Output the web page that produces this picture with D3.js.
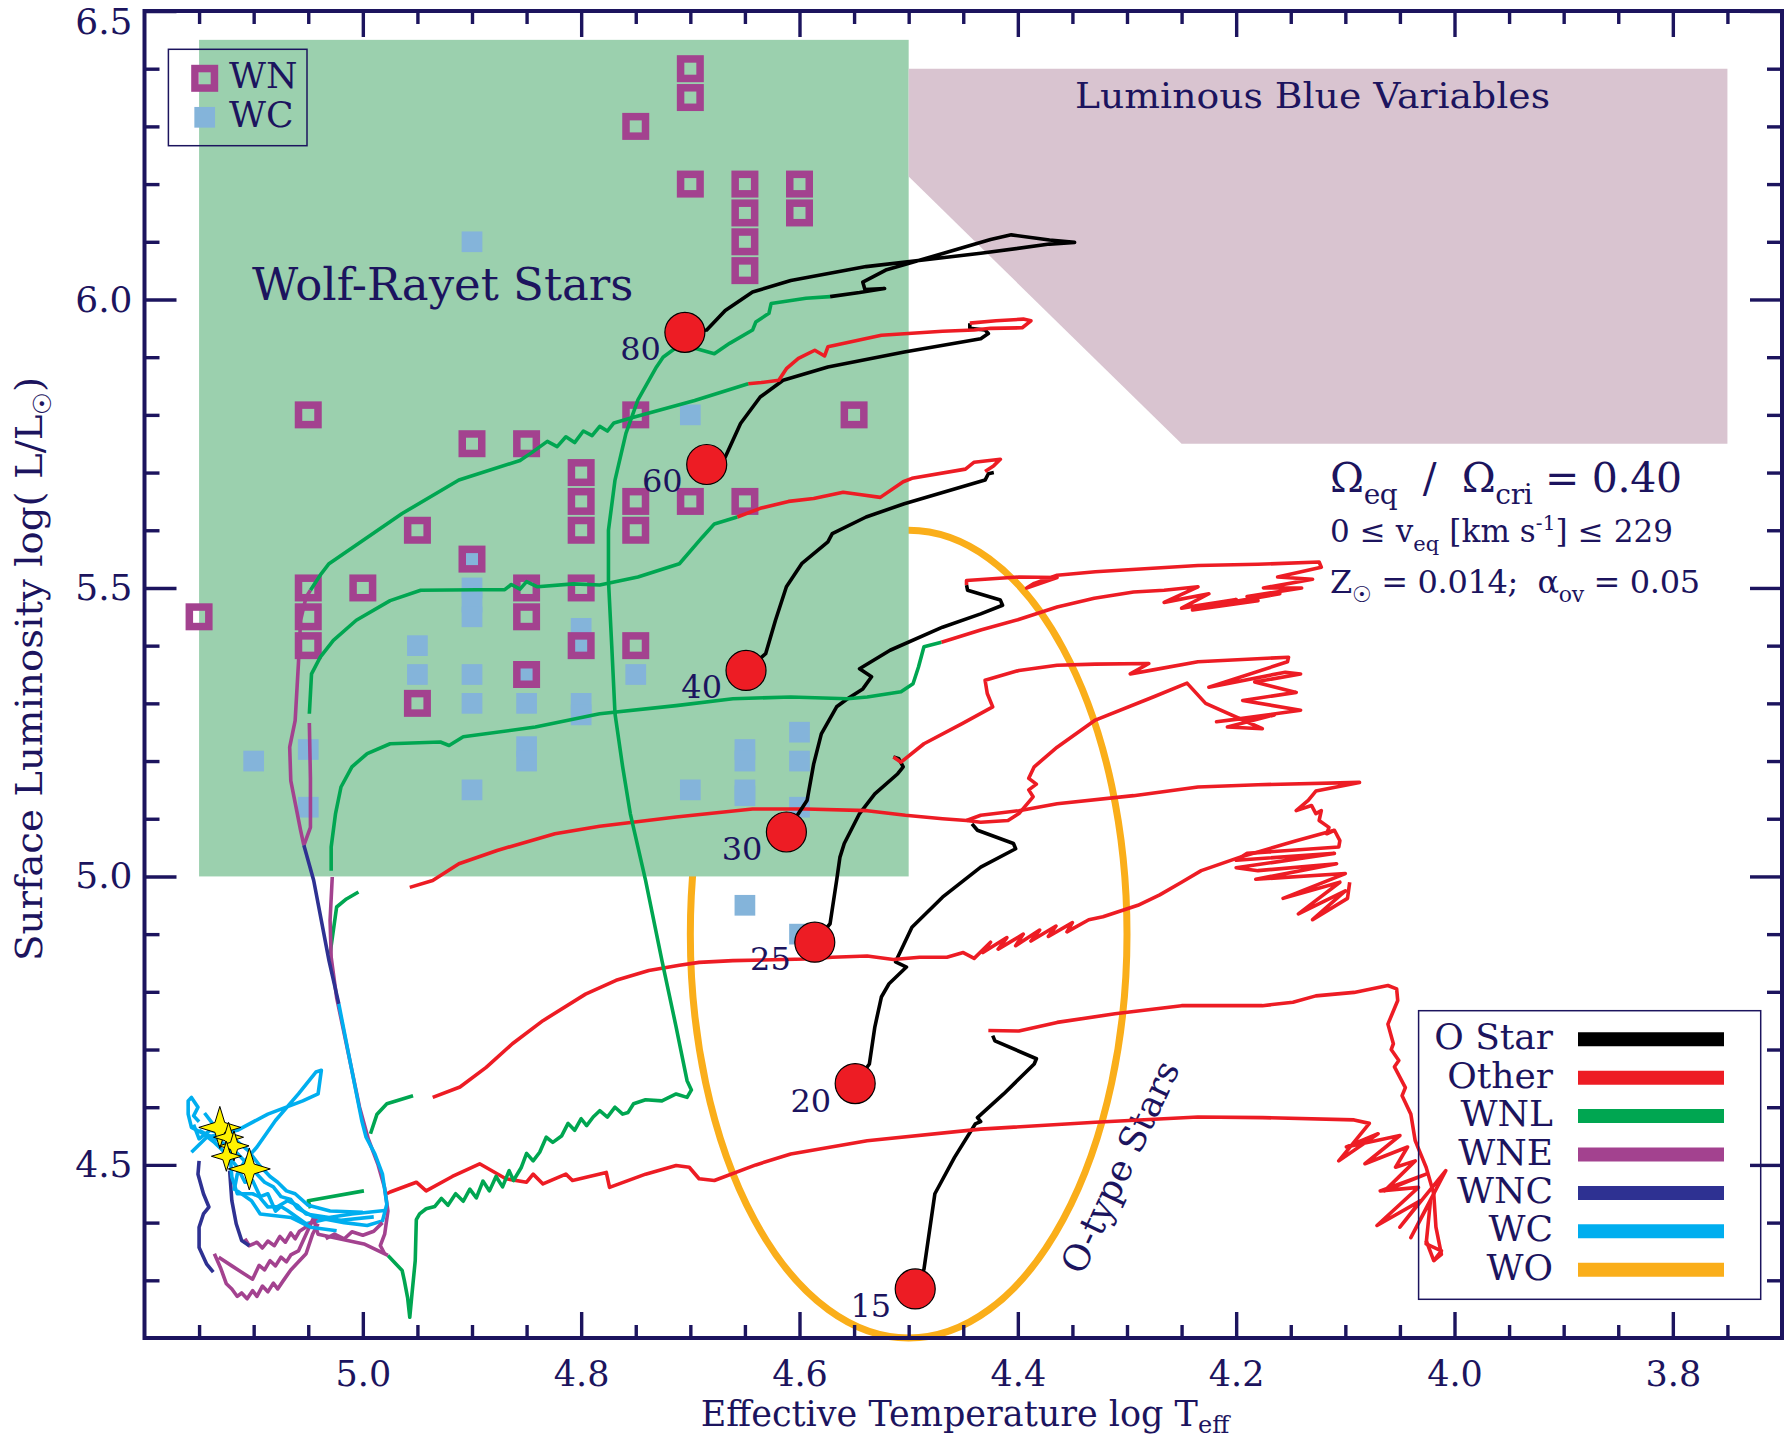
<!DOCTYPE html>
<html>
<head>
<meta charset="utf-8">
<script src="https://cdn.jsdelivr.net/npm/d3@7"></script>
<style>
  body { margin: 0; background: #fff; }
  svg { display: block; }
  text { font-family: "DejaVu Serif", serif; white-space: pre; }
</style>
</head>
<body>
<svg id="chart" width="1784" height="1440"></svg>
<script>
// ---------- axis ticks ----------
const xMajorTicks = [5.0, 4.8, 4.6, 4.4, 4.2, 4.0, 3.8];
const xMinorTicks = [5.15, 5.1, 5.05, 4.95, 4.9, 4.85, 4.75, 4.7, 4.65, 4.55, 4.5, 4.45, 4.35, 4.3, 4.25, 4.15, 4.1, 4.05, 3.95, 3.9, 3.85, 3.75];
const yMajorTicks = [4.5, 5.0, 5.5, 6.0, 6.5];
const yMinorTicks = [4.3, 4.4, 4.6, 4.7, 4.8, 4.9, 5.1, 5.2, 5.3, 5.4, 5.6, 5.7, 5.8, 5.9, 6.1, 6.2, 6.3, 6.4];

// ---------- shaded regions (logT, logL) ----------
const wrRegion = [[5.15, 5.0], [4.5, 6.45]];
const lbvRegion = [[4.5, 6.4], [3.75, 6.4], [3.75, 5.75], [4.25, 5.75], [4.5, 6.213]];
const oStarCentre = [4.5, 4.9];
const oStarHalfAxes = [0.2, 0.7];

// ---------- observed Wolf-Rayet stars ----------
const wnStars = [[4.70,6.40],[4.70,6.35],[4.75,6.30],[4.70,6.20],[4.65,6.20],[4.60,6.20],[4.65,6.15],[4.60,6.15],[4.65,6.10],[4.65,6.05],
  [5.05,5.80],[4.75,5.80],[4.55,5.80],[4.90,5.75],[4.85,5.75],[4.80,5.70],[4.80,5.65],[4.75,5.65],[4.70,5.65],[4.65,5.65],
  [4.95,5.60],[4.80,5.60],[4.75,5.60],[4.90,5.55],[5.05,5.50],[5.00,5.50],[4.85,5.50],[4.80,5.50],[5.15,5.45],[5.05,5.45],
  [4.85,5.45],[5.05,5.40],[4.80,5.40],[4.75,5.40],[4.85,5.35],[4.95,5.30]];
const wcStars = [[4.90,6.10],[4.70,5.80],[4.90,5.55],[4.90,5.50],[4.90,5.475],[4.90,5.45],[4.80,5.43],[4.80,5.40],[4.95,5.40],[4.95,5.35],
  [4.90,5.35],[4.85,5.35],[4.75,5.35],[4.90,5.30],[4.85,5.30],[4.80,5.30],[4.80,5.28],[4.60,5.25],[4.85,5.225],[4.85,5.20],
  [4.65,5.22],[4.65,5.20],[4.60,5.20],[5.05,5.22],[5.10,5.20],[4.90,5.15],[4.70,5.15],[4.65,5.15],[4.65,5.14],[5.05,5.12],
  [4.60,5.12],[4.65,4.95],[4.60,4.90]];

// ---------- evolutionary tracks: [phase, [[logT, logL], ...]] ----------
const track80 = [
  ["O", [[4.705,5.943],[4.685,5.947],[4.668,5.981],[4.643,6.013],[4.608,6.033],[4.539,6.057],[4.434,6.080],[4.371,6.096],[4.348,6.099],[4.371,6.103],[4.406,6.112],[4.425,6.104],[4.479,6.074],[4.521,6.051],[4.542,6.030],[4.540,6.017],[4.522,6.019],[4.545,6.012],[4.572,6.005]]],
  ["WNL", [[4.572,6.005],[4.594,6.002],[4.626,5.993],[4.628,5.976],[4.640,5.961],[4.643,5.947],[4.664,5.924],[4.678,5.906],[4.695,5.915],[4.712,5.918],[4.725,5.900],[4.731,5.883],[4.748,5.826],[4.759,5.768],[4.769,5.687],[4.775,5.600],[4.775,5.513],[4.772,5.400],[4.769,5.282],[4.762,5.190],[4.755,5.109],[4.741,4.993],[4.726,4.854],[4.713,4.739],[4.703,4.646],[4.699,4.630],[4.703,4.617],[4.713,4.623],[4.726,4.611],[4.741,4.613],[4.752,4.606],[4.757,4.591],[4.762,4.588],[4.769,4.600],[4.776,4.583],[4.783,4.594],[4.789,4.583],[4.795,4.568],[4.800,4.580],[4.806,4.560],[4.812,4.572],[4.818,4.550],[4.826,4.539],[4.832,4.548],[4.838,4.522],[4.844,4.507],[4.850,4.520],[4.855,4.495],[4.862,4.473],[4.866,4.490],[4.872,4.462],[4.878,4.480],[4.884,4.455],[4.890,4.472],[4.896,4.443],[4.902,4.458],[4.908,4.437],[4.915,4.450],[4.922,4.430],[4.928,4.442],[4.934,4.428],[4.942,4.424],[4.948,4.415],[4.951,4.405],[4.952,4.334],[4.955,4.276],[4.957,4.236],[4.959,4.270],[4.962,4.300],[4.964,4.317],[4.977,4.343]]],
  ["WNE", [[4.977,4.343],[4.999,4.363],[5.041,4.380],[5.045,4.405]]]
];
const track60 = [
  ["O", [[4.685,5.714],[4.668,5.727],[4.654,5.785],[4.636,5.831],[4.615,5.860],[4.574,5.883],[4.504,5.909],[4.434,5.932],[4.427,5.941],[4.430,5.947],[4.444,5.950],[4.444,5.959]]],
  ["other", [[4.444,5.959],[4.420,5.963],[4.395,5.966],[4.388,5.963],[4.396,5.951],[4.425,5.950],[4.440,5.947],[4.469,5.945],[4.525,5.938],[4.574,5.918],[4.577,5.902],[4.586,5.912],[4.601,5.898],[4.612,5.880],[4.619,5.860],[4.635,5.856],[4.647,5.854]]],
  ["WNL", [[4.647,5.854],[4.696,5.825],[4.752,5.796],[4.770,5.786],[4.776,5.772],[4.783,5.780],[4.790,5.764],[4.798,5.772],[4.806,5.752],[4.814,5.762],[4.822,5.745],[4.831,5.754],[4.845,5.735],[4.856,5.721],[4.912,5.687],[4.964,5.629],[5.031,5.542],[5.038,5.525],[5.048,5.496]]],
  ["WNE", [[5.048,5.496],[5.052,5.484],[5.057,5.444],[5.059,5.369],[5.062,5.270],[5.067,5.224],[5.066,5.166],[5.057,5.080],[5.054,5.054]]],
  ["WNC", [[5.054,5.054],[5.045,4.993],[5.031,4.854],[5.022,4.779]]],
  ["WC", [[5.022,4.779],[5.013,4.692],[5.001,4.577],[4.997,4.548],[4.989,4.519],[4.982,4.484],[4.978,4.432],[4.982,4.403],[4.996,4.395],[5.017,4.400],[5.034,4.406],[5.052,4.398]]]
];
const track40 = [
  ["O", [[4.649,5.357],[4.631,5.386],[4.622,5.444],[4.612,5.502],[4.598,5.542],[4.574,5.580],[4.570,5.594],[4.539,5.623],[4.504,5.646],[4.430,5.687],[4.427,5.698],[4.422,5.700]]],
  ["other", [[4.430,5.702],[4.422,5.712],[4.416,5.723],[4.440,5.718],[4.448,5.706],[4.497,5.690],[4.505,5.684],[4.526,5.657],[4.545,5.662],[4.560,5.666],[4.587,5.655],[4.610,5.650],[4.636,5.638],[4.657,5.623]]],
  ["WNL", [[4.657,5.623],[4.678,5.611],[4.689,5.588],[4.710,5.542],[4.748,5.519],[4.783,5.505],[4.807,5.507],[4.840,5.502],[4.850,5.511],[4.856,5.498],[4.864,5.506],[4.870,5.497],[4.895,5.497],[4.947,5.496],[4.975,5.478],[5.006,5.444],[5.027,5.409],[5.039,5.380],[5.047,5.351],[5.049,5.282]]],
  ["WNE", [[5.049,5.266],[5.048,5.170],[5.048,5.085],[5.054,5.054]]]
];
const track30 = [
  ["O", [[4.612,5.077],[4.593,5.132],[4.587,5.195],[4.580,5.247],[4.566,5.294],[4.556,5.308],[4.542,5.325],[4.534,5.346],[4.545,5.360],[4.517,5.392],[4.469,5.432],[4.434,5.455],[4.414,5.470],[4.416,5.479],[4.446,5.496],[4.447,5.505]]],
  ["other", [[4.447,5.505],[4.447,5.513],[4.399,5.519],[4.364,5.518],[4.392,5.500],[4.385,5.508],[4.364,5.522],[4.329,5.528],[4.235,5.539],[4.180,5.541],[4.124,5.545],[4.122,5.536],[4.162,5.519],[4.130,5.515],[4.175,5.500],[4.140,5.500],[4.190,5.485],[4.160,5.490],[4.215,5.472],[4.180,5.478],[4.240,5.462],[4.200,5.480],[4.250,5.465],[4.225,5.490],[4.266,5.475],[4.235,5.502],[4.266,5.496],[4.294,5.493],[4.330,5.482],[4.364,5.467],[4.400,5.445],[4.434,5.427],[4.470,5.406]]],
  ["WNL", [[4.470,5.406],[4.486,5.398],[4.491,5.363],[4.496,5.334],[4.507,5.320],[4.538,5.311],[4.556,5.308],[4.608,5.311],[4.661,5.308],[4.713,5.296],[4.783,5.282],[4.842,5.259],[4.908,5.242],[4.921,5.227],[4.929,5.233],[4.975,5.230],[4.996,5.213],[5.010,5.190],[5.020,5.155],[5.025,5.109],[5.029,5.051],[5.029,5.010]]],
  ["WNE", [[5.028,4.999],[5.030,4.924],[5.029,4.860],[5.024,4.790],[5.014,4.700],[5.003,4.600],[4.995,4.545],[4.986,4.500],[4.980,4.460],[4.977,4.420],[4.980,4.380],[4.984,4.360],[4.980,4.346]]]
];
const track25 = [
  ["O", [[4.586,4.886],[4.572,4.918],[4.566,4.993],[4.563,5.033],[4.559,5.057],[4.545,5.109],[4.531,5.143],[4.510,5.178],[4.505,5.190],[4.509,5.204],[4.514,5.207]]],
  ["other", [[4.514,5.207],[4.507,5.198],[4.486,5.230],[4.451,5.265],[4.423,5.294],[4.428,5.317],[4.430,5.340],[4.423,5.344],[4.399,5.357],[4.364,5.366],[4.329,5.368],[4.280,5.369],[4.297,5.351],[4.276,5.358],[4.235,5.372],[4.152,5.380],[4.153,5.372],[4.225,5.328],[4.155,5.354],[4.141,5.351],[4.183,5.337],[4.145,5.319],[4.194,5.305],[4.141,5.288],[4.218,5.268],[4.165,5.280],[4.208,5.259],[4.176,5.256],[4.228,5.300],[4.245,5.335],[4.276,5.311],[4.329,5.271],[4.364,5.224],[4.385,5.190],[4.390,5.170],[4.383,5.160],[4.390,5.150],[4.386,5.138],[4.399,5.109],[4.409,5.097],[4.434,5.094],[4.447,5.097],[4.469,5.100],[4.503,5.106],[4.538,5.114],[4.594,5.117],[4.643,5.117],[4.713,5.103],[4.783,5.087],[4.824,5.074],[4.877,5.045],[4.912,5.022],[4.936,4.993],[4.957,4.981]]],
  ["WNL", [[5.004,4.973],[5.015,4.961],[5.024,4.947],[5.030,4.866]]]
];
const track20 = [
  ["O", [[4.549,4.641],[4.536,4.675],[4.531,4.739],[4.525,4.791],[4.518,4.814],[4.502,4.843],[4.512,4.852],[4.497,4.912],[4.469,4.964],[4.434,5.016],[4.402,5.048],[4.404,5.057],[4.437,5.080],[4.442,5.091]]],
  ["other", [[4.447,5.097],[4.434,5.106],[4.399,5.114],[4.364,5.126],[4.294,5.140],[4.235,5.155],[4.180,5.159],[4.087,5.163],[4.127,5.148],[4.134,5.132],[4.145,5.114],[4.131,5.123],[4.127,5.109],[4.122,5.114],[4.124,5.097],[4.115,5.085],[4.117,5.074],[4.110,5.080],[4.105,5.062],[4.106,5.051],[4.190,5.040],[4.200,5.028],[4.110,5.040],[4.200,5.015],[4.180,5.010],[4.108,5.022],[4.182,4.995],[4.100,5.005],[4.157,4.962],[4.105,4.990],[4.143,4.935],[4.100,4.975],[4.130,4.925],[4.098,4.962],[4.096,4.990]]],
  ["WNL", [[4.993,4.554],[4.987,4.588],[4.978,4.606],[4.954,4.620]]],
  ["other", [[4.936,4.617],[4.911,4.635],[4.887,4.669],[4.863,4.710],[4.835,4.750],[4.796,4.796],[4.768,4.820],[4.738,4.837],[4.710,4.846],[4.692,4.851],[4.661,4.854],[4.594,4.857],[4.570,4.860],[4.538,4.862],[4.514,4.856],[4.490,4.860],[4.465,4.860],[4.450,4.868],[4.440,4.858],[4.425,4.886],[4.432,4.868],[4.410,4.894],[4.418,4.874],[4.395,4.900],[4.402,4.880],[4.380,4.907],[4.388,4.888],[4.365,4.914],[4.372,4.896],[4.350,4.920],[4.355,4.904],[4.335,4.925],[4.322,4.930],[4.290,4.950],[4.270,4.968],[4.250,4.990],[4.232,5.010],[4.197,5.033],[4.145,5.062],[4.110,5.080]]]
];
const track15 = [
  ["O", [[4.494,4.285],[4.486,4.319],[4.476,4.450],[4.458,4.513],[4.439,4.571],[4.434,4.575],[4.437,4.582],[4.413,4.623],[4.385,4.675],[4.383,4.684],[4.421,4.715],[4.423,4.724]]],
  ["other", [[4.427,4.733],[4.399,4.732],[4.364,4.747],[4.311,4.762],[4.250,4.776],[4.176,4.776],[4.148,4.782],[4.127,4.793],[4.092,4.799],[4.061,4.811],[4.053,4.805],[4.052,4.785],[4.061,4.744],[4.056,4.710],[4.058,4.700],[4.051,4.681],[4.055,4.670],[4.045,4.634],[4.048,4.620],[4.040,4.588],[4.036,4.542],[4.026,4.496],[4.019,4.450],[4.017,4.392],[4.012,4.345],[4.019,4.334],[4.026,4.369]]],
  ["other", [[4.978,4.450],[4.975,4.453],[4.951,4.470],[4.942,4.455],[4.918,4.480],[4.893,4.502],[4.869,4.476],[4.850,4.470],[4.844,4.484],[4.835,4.467],[4.814,4.484],[4.808,4.473],[4.777,4.487],[4.774,4.461],[4.741,4.484],[4.713,4.499],[4.701,4.496],[4.692,4.476],[4.678,4.473],[4.640,4.500],[4.608,4.519],[4.538,4.542],[4.434,4.562],[4.329,4.574],[4.235,4.583],[4.176,4.582],[4.092,4.578],[4.078,4.572],[4.106,4.507],[4.070,4.554],[4.099,4.531],[4.050,4.551],[4.082,4.502],[4.043,4.531],[4.054,4.496],[4.036,4.507],[4.064,4.455],[4.026,4.484],[4.068,4.455],[4.033,4.461],[4.071,4.395],[4.031,4.438],[4.050,4.392],[4.008,4.490],[4.040,4.374],[4.022,4.438],[4.026,4.363],[4.012,4.351],[4.019,4.334]]]
];
// late Wolf-Rayet loops at the hot end
const wrLoops = [
  ["WNL", [[5.048,4.425],[5.050,4.438],[4.999,4.455]]],
  ["WNE", [[4.982,4.400],[4.990,4.385],[5.000,4.378],[5.010,4.384],[5.017,4.372],[5.026,4.380],[5.034,4.372]]],
  ["WNE", [[5.041,4.398],[5.046,4.380],[5.052,4.346],[5.060,4.330],[5.066,4.318],[5.073,4.299],[5.078,4.285],[5.082,4.295],[5.087,4.280],[5.092,4.290],[5.097,4.272],[5.101,4.282],[5.106,4.268],[5.111,4.278],[5.115,4.272],[5.120,4.285],[5.125,4.294],[5.130,4.320],[5.136,4.346]]],
  ["WNE", [[5.045,4.409],[5.052,4.380],[5.059,4.351],[5.066,4.344],[5.070,4.332],[5.075,4.340],[5.080,4.325],[5.085,4.334],[5.090,4.318],[5.095,4.326],[5.101,4.302],[5.106,4.308],[5.111,4.314],[5.120,4.325],[5.132,4.340]]],
  ["WNE", [[5.041,4.410],[5.050,4.395],[5.058,4.385],[5.062,4.372],[5.066,4.382],[5.071,4.366],[5.076,4.376],[5.081,4.360],[5.087,4.368],[5.092,4.356],[5.097,4.366],[5.104,4.360],[5.108,4.372]]],
  ["WNC", [[5.150,4.507],[5.151,4.484],[5.146,4.450],[5.141,4.427],[5.146,4.415],[5.150,4.392],[5.150,4.357],[5.143,4.328],[5.137,4.314]]],
  ["WNC", [[5.122,4.490],[5.120,4.438],[5.116,4.398],[5.111,4.369],[5.104,4.360]]],
  ["WC", [[5.052,4.398],[5.069,4.421],[5.075,4.428],[5.080,4.420],[5.087,4.450],[5.094,4.445],[5.101,4.473],[5.108,4.470],[5.115,4.496],[5.125,4.519],[5.136,4.539],[5.146,4.554],[5.157,4.565],[5.160,4.588],[5.160,4.611],[5.157,4.617],[5.151,4.600],[5.155,4.585],[5.150,4.575]]],
  ["WC", [[4.980,4.421],[5.010,4.415],[5.031,4.409],[5.052,4.415],[5.060,4.430],[5.069,4.438],[5.078,4.428],[5.087,4.427],[5.095,4.445],[5.101,4.450],[5.115,4.450],[5.120,4.479],[5.122,4.531],[5.127,4.554],[5.140,4.560],[5.150,4.545],[5.155,4.570]]],
  ["WC", [[5.157,4.522],[5.143,4.548],[5.115,4.560],[5.087,4.588],[5.055,4.611],[5.041,4.623],[5.038,4.664],[5.043,4.661],[5.059,4.623],[5.080,4.577],[5.097,4.531],[5.108,4.507],[5.115,4.484],[5.118,4.455]]],
  ["WC", [[5.024,4.386],[5.048,4.392],[5.066,4.409],[5.080,4.412],[5.094,4.415],[5.102,4.438],[5.115,4.455]]],
  ["WC", [[5.150,4.560],[5.130,4.540],[5.115,4.520],[5.100,4.490],[5.090,4.470],[5.082,4.462],[5.075,4.445],[5.066,4.440],[5.060,4.425],[5.045,4.410],[5.020,4.404],[4.990,4.410]]],
  ["WC", [[5.145,4.590],[5.135,4.565],[5.120,4.548],[5.105,4.525],[5.095,4.500],[5.085,4.480],[5.078,4.470],[5.070,4.455],[5.062,4.450],[5.050,4.430],[5.030,4.420],[5.000,4.418]]]
];
const allTracks = [track15, track20, track25, track30, track40, track60, track80, wrLoops];

// zero-age main-sequence starting points
const masses = [15, 20, 25, 30, 40, 60, 80];
const zamsT = [4.494, 4.549, 4.586, 4.612, 4.649, 4.685, 4.705];
const zamsL = [4.285, 4.641, 4.886, 5.077, 5.357, 5.714, 5.943];

// end points of the WO / WC phase
const endT = [5.131, 5.123, 5.118, 5.125, 5.104];
const endL = [4.565, 4.548, 4.533, 4.515, 4.493];

// legend
const legendPhases = ["O", "other", "WNL", "WNE", "WNC", "WC", "WO"];
const legendNames = ["O Star", "Other", "WNL", "WNE", "WNC", "WC", "WO"];

// ---------- styles ----------
const NAVY = "#1c145e";
const phaseColor = { O: "#000000", other: "#ed1c24", WNL: "#00a651", WNE: "#a3428f", WNC: "#2e3192", WC: "#00aeef", WO: "#faae1a" };

const svg = d3.select("#chart");
const x = d3.scaleLinear().domain([5.2, 3.7]).range([144.5, 1782]);
const y = d3.scaleLinear().domain([4.2, 6.5]).range([1338, 11]);

// O-type region (drawn first, the WR box covers its upper-left part)
svg.append("ellipse")
  .attr("cx", x(oStarCentre[0])).attr("cy", y(oStarCentre[1]))
  .attr("rx", x(oStarCentre[0] - oStarHalfAxes[0]) - x(oStarCentre[0]))
  .attr("ry", y(oStarCentre[1] - oStarHalfAxes[1]) - y(oStarCentre[1]))
  .attr("fill", "none").attr("stroke", phaseColor.WO).attr("stroke-width", 7);

svg.append("rect")
  .attr("x", x(wrRegion[0][0])).attr("y", y(wrRegion[1][1]))
  .attr("width", x(wrRegion[1][0]) - x(wrRegion[0][0]))
  .attr("height", y(wrRegion[0][1]) - y(wrRegion[1][1]))
  .attr("fill", "#9bd0ae");

svg.append("polygon")
  .attr("points", lbvRegion.map(d => [x(d[0]), y(d[1])].join(",")).join(" "))
  .attr("fill", "#d9c4d0");

// region labels
svg.append("text").attr("x", 252).attr("y", 300).attr("font-size", 45).attr("fill", NAVY).text("Wolf-Rayet Stars");
svg.append("text").attr("x", 1075).attr("y", 108).attr("font-size", 36)
  .attr("textLength", 475).attr("lengthAdjust", "spacingAndGlyphs").attr("fill", NAVY).text("Luminous Blue Variables");
svg.append("text").attr("transform", "translate(1120,1167) rotate(-64.8)")
  .attr("text-anchor", "middle").attr("dy", "0.35em").attr("font-size", 36).attr("fill", NAVY).text("O-type Stars");

// observed stars
svg.append("g").selectAll("rect").data(wcStars).join("rect")
  .attr("x", d => x(d[0]) - 10.35).attr("y", d => y(d[1]) - 10.35)
  .attr("width", 20.7).attr("height", 20.7).attr("fill", "#84b4da");
svg.append("g").selectAll("rect").data(wnStars).join("rect")
  .attr("x", d => x(d[0]) - 9.75).attr("y", d => y(d[1]) - 9.75)
  .attr("width", 19.5).attr("height", 19.5)
  .attr("fill", "none").attr("stroke", phaseColor.WNE).attr("stroke-width", 7.5);

// tracks
const line = d3.line().x(d => x(d[0])).y(d => y(d[1]));
const trackG = svg.append("g").attr("fill", "none").attr("stroke-width", 3.6)
  .attr("stroke-linejoin", "round").attr("stroke-linecap", "butt");
allTracks.forEach(track => {
  track.forEach(([phase, pts]) => {
    trackG.append("path").attr("d", line(pts)).attr("stroke", phaseColor[phase]);
  });
});

// ZAMS markers and mass labels
svg.append("g").selectAll("circle").data(masses).join("circle")
  .attr("cx", (d, i) => x(zamsT[i])).attr("cy", (d, i) => y(zamsL[i])).attr("r", 20)
  .attr("fill", "#ed1c24").attr("stroke", "#000").attr("stroke-width", 1.2);
svg.append("g").selectAll("text").data(masses).join("text")
  .attr("x", (d, i) => x(zamsT[i]) - 24).attr("y", (d, i) => y(zamsL[i]) + 28)
  .attr("text-anchor", "end").attr("font-size", 32).attr("fill", NAVY).text(d => d);

// end-point stars (4-pointed)
function starPath(r) {
  const pts = [];
  for (let k = 0; k < 8; k++) {
    const a = -Math.PI / 2 + k * Math.PI / 4;
    const rr = k % 2 === 0 ? r : r * 0.33;
    pts.push([rr * Math.cos(a), rr * Math.sin(a)]);
  }
  return "M" + pts.map(p => p.join(",")).join("L") + "Z";
}
svg.append("g").selectAll("path").data(endT).join("path")
  .attr("transform", (d, i) => `translate(${x(d)},${y(endL[i])})`)
  .attr("d", (d, i) => starPath(i === 0 || i === endT.length - 1 ? 21 : 15))
  .attr("fill", "#fff200").attr("stroke", "#000").attr("stroke-width", 1);

// ---------- axes ----------
function styleAxis(g, fs) {
  g.select(".domain").remove();
  g.selectAll("line").attr("stroke", NAVY).attr("stroke-width", 3.4);
  g.selectAll("text").attr("fill", NAVY).attr("font-size", fs).style("font-family", "DejaVu Serif");
}
const fmt = d3.format(".1f");
svg.append("g").attr("transform", `translate(0,${y(4.2)})`)
  .call(d3.axisBottom(x).tickValues(xMajorTicks).tickSize(-26).tickPadding(23).tickFormat(fmt)).call(styleAxis, 35);
svg.append("g").attr("transform", `translate(0,${y(4.2)})`)
  .call(d3.axisBottom(x).tickValues(xMinorTicks).tickSize(-13).tickFormat("")).call(styleAxis, 35);
svg.append("g").attr("transform", `translate(0,${y(6.5)})`)
  .call(d3.axisTop(x).tickValues(xMajorTicks).tickSize(-26).tickFormat("")).call(styleAxis, 35);
svg.append("g").attr("transform", `translate(0,${y(6.5)})`)
  .call(d3.axisTop(x).tickValues(xMinorTicks).tickSize(-13).tickFormat("")).call(styleAxis, 35);
const yAxisG = svg.append("g").attr("transform", `translate(${x(5.2)},0)`)
  .call(d3.axisLeft(y).tickValues(yMajorTicks).tickSize(-32).tickPadding(12).tickFormat(fmt)).call(styleAxis, 36);
// the top label sits just below the frame corner
yAxisG.selectAll(".tick text").filter(d => d === 6.5).attr("y", 10.5);
svg.append("g").attr("transform", `translate(${x(5.2)},0)`)
  .call(d3.axisLeft(y).tickValues(yMinorTicks).tickSize(-15).tickFormat("")).call(styleAxis, 36);
svg.append("g").attr("transform", `translate(${x(3.7)},0)`)
  .call(d3.axisRight(y).tickValues(yMajorTicks).tickSize(-32).tickFormat("")).call(styleAxis, 36);
svg.append("g").attr("transform", `translate(${x(3.7)},0)`)
  .call(d3.axisRight(y).tickValues(yMinorTicks).tickSize(-15).tickFormat("")).call(styleAxis, 36);
svg.append("rect").attr("x", x(5.2)).attr("y", y(6.5)).attr("width", x(3.7) - x(5.2)).attr("height", y(4.2) - y(6.5))
  .attr("fill", "none").attr("stroke", NAVY).attr("stroke-width", 4);

// axis titles
const xt = svg.append("text").attr("x", 965).attr("y", 1426).attr("text-anchor", "middle").attr("font-size", 35).attr("fill", NAVY);
xt.append("tspan").text("Effective Temperature log T");
xt.append("tspan").attr("font-size", 24).attr("dy", 7).text("eff");
const yt = svg.append("text").attr("transform", "translate(42,669) rotate(-90)").attr("text-anchor", "middle")
  .attr("font-size", 38).attr("textLength", 584).attr("lengthAdjust", "spacingAndGlyphs").attr("fill", NAVY);
yt.append("tspan").text("Surface Luminosity log( L/L");
yt.append("tspan").attr("font-size", 25).attr("dy", 9).text("\u2609");
yt.append("tspan").attr("dy", -9).text(")");

// model parameters
const p1 = svg.append("text").attr("x", 1330).attr("y", 492).attr("font-size", 41)
  .attr("textLength", 352).attr("lengthAdjust", "spacing").attr("fill", NAVY);
p1.append("tspan").text("\u03A9");
p1.append("tspan").attr("font-size", 28).attr("dy", 12).text("eq");
p1.append("tspan").attr("dy", -12).text("  /  \u03A9");
p1.append("tspan").attr("font-size", 28).attr("dy", 12).text("cri");
p1.append("tspan").attr("dy", -12).text(" = 0.40");
const p2 = svg.append("text").attr("x", 1330).attr("y", 542).attr("font-size", 31)
  .attr("textLength", 343).attr("lengthAdjust", "spacing").attr("fill", NAVY);
p2.append("tspan").text("0 \u2264 v");
p2.append("tspan").attr("font-size", 21).attr("dy", 9).text("eq");
p2.append("tspan").attr("dy", -9).text(" [km s");
p2.append("tspan").attr("font-size", 20).attr("dy", -12).text("-1");
p2.append("tspan").attr("dy", 12).text("] \u2264 229");
const p3 = svg.append("text").attr("x", 1330).attr("y", 593).attr("font-size", 32)
  .attr("textLength", 370).attr("lengthAdjust", "spacing").attr("fill", NAVY);
p3.append("tspan").text("Z");
p3.append("tspan").attr("font-size", 22).attr("dy", 9).text("\u2609");
p3.append("tspan").attr("dy", -9).text(" = 0.014;  \u03B1");
p3.append("tspan").attr("font-size", 22).attr("dy", 9).text("ov");
p3.append("tspan").attr("dy", -9).text(" = 0.05");

// WN / WC legend
svg.append("rect").attr("x", 168.4).attr("y", 49.3).attr("width", 138.6).attr("height", 96.4)
  .attr("fill", "none").attr("stroke", NAVY).attr("stroke-width", 1.5);
svg.append("rect").attr("x", 204.7 - 9.75).attr("y", 78.3 - 9.75).attr("width", 19.5).attr("height", 19.5)
  .attr("fill", "none").attr("stroke", phaseColor.WNE).attr("stroke-width", 7.5);
svg.append("rect").attr("x", 204.7 - 10.35).attr("y", 117.3 - 10.35).attr("width", 20.7).attr("height", 20.7).attr("fill", "#84b4da");
svg.append("text").attr("x", 229).attr("y", 88.3).attr("font-size", 36).attr("fill", NAVY).text("WN");
svg.append("text").attr("x", 229).attr("y", 126.7).attr("font-size", 36).attr("fill", NAVY).text("WC");

// phase legend
svg.append("rect").attr("x", 1418.6).attr("y", 1010.7).attr("width", 342.1).attr("height", 288.6)
  .attr("fill", "none").attr("stroke", NAVY).attr("stroke-width", 1.5);
const lg = svg.append("g").selectAll("g").data(legendPhases).join("g")
  .attr("transform", (d, i) => `translate(0,${1049.3 + i * 38.4})`);
lg.append("text").attr("x", 1553).attr("text-anchor", "end").attr("font-size", 36).attr("fill", NAVY)
  .text((d, i) => legendNames[i]);
lg.append("line").attr("x1", 1578).attr("x2", 1724).attr("y1", -10).attr("y2", -10)
  .attr("stroke", d => phaseColor[d]).attr("stroke-width", 14);
</script>
</body>
</html>
